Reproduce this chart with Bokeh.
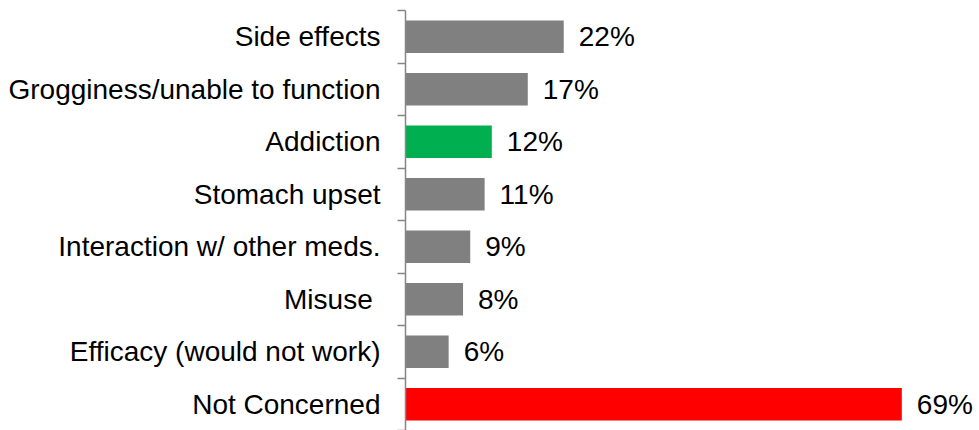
from bokeh.plotting import figure
from bokeh.models import ColumnDataSource, FixedTicker, Range1d
from bokeh.embed import file_html
from bokeh.resources import INLINE
from bokeh.core.properties import value

categories = ["Side effects", "Grogginess/unable to function", "Addiction",
              "Stomach upset", "Interaction w/ other meds.", "Misuse ",
              "Efficacy (would not work)", "Not Concerned"]
values = [22, 17, 12, 11, 9, 8, 6, 69]
bar_colors = ["#808080", "#808080", "#00B050", "#808080", "#808080",
              "#808080", "#808080", "#FF0000"]
value_labels = [f"{v}%" for v in values]

n = len(categories)
ys = [n - i - 0.5 for i in range(n)]

src = ColumnDataSource(dict(y=ys, v=values, color=bar_colors, lab=value_labels))

p = figure(width=979, height=430, x_range=Range1d(0, 79.8), y_range=Range1d(0, n),
           output_backend="svg", toolbar_location=None, x_axis_location=None,
           min_border_left=405, min_border_right=0, min_border_top=10, min_border_bottom=0)
p.xgrid.visible = False
p.ygrid.visible = False
p.outline_line_color = None
p.background_fill_color = "white"
p.border_fill_color = "white"

p.hbar(y="y", left=0, right="v", height=0.62, fill_color="color",
       line_color=None, source=src)
p.text(x="v", y="y", text="lab", x_offset=15, text_align="left",
       text_baseline="middle", text_font=value("Liberation Sans"),
       text_font_size="28px", text_color="#000000", source=src)

ax = p.yaxis[0]
ax.ticker = FixedTicker(ticks=ys, minor_ticks=list(range(n + 1)))
ax.major_label_overrides = {y: c for y, c in zip(ys, categories)}
ax.major_tick_out = 0
ax.major_tick_in = 0
ax.minor_tick_out = 8
ax.minor_tick_in = 0
ax.major_label_standoff = 17
ax.axis_line_color = "#868686"
ax.axis_line_width = 1.5
ax.minor_tick_line_color = "#868686"
ax.minor_tick_line_width = 1.5
ax.major_label_text_font = "Liberation Sans"
ax.major_label_text_font_size = "28px"
ax.major_label_text_color = "#000000"

open("out.html", "w").write(file_html(p, INLINE))
